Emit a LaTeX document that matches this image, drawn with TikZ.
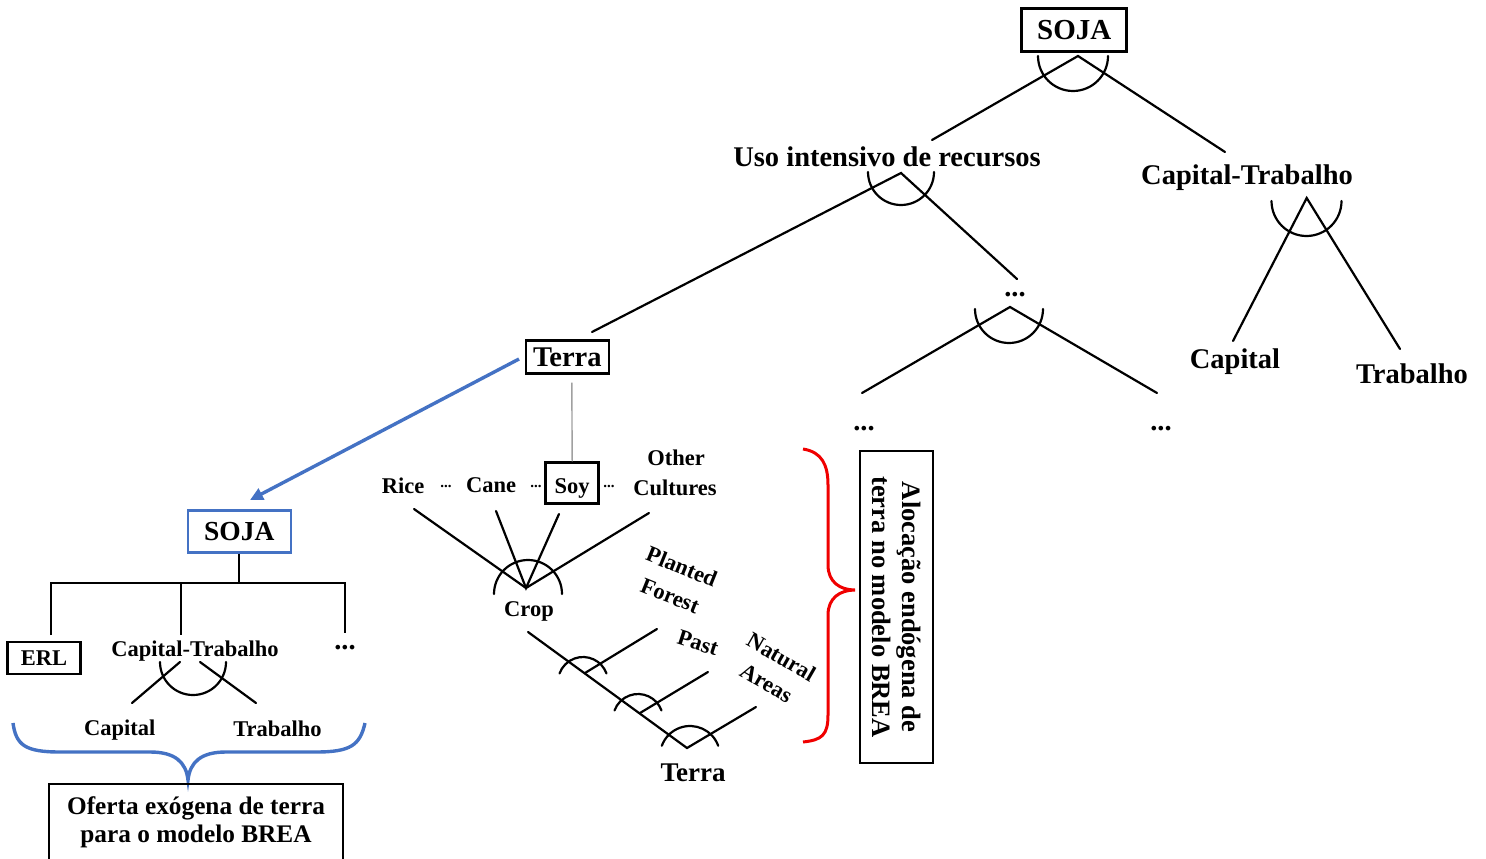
\documentclass[tikz,border=0pt]{standalone}
\usepackage{fontspec}
\setmainfont{Liberation Serif}
\usetikzlibrary{arrows.meta}
\definecolor{officeblue}{RGB}{68,114,196}
\definecolor{stemgray}{RGB}{160,160,160}
\definecolor{bracered}{RGB}{240,0,0}

\begin{document}
\begin{tikzpicture}[x=1pt,y=1pt,
  big/.style={font=\bfseries\fontsize{28.5}{32}\selectfont, inner sep=0pt},
  small/.style={font=\bfseries\fontsize{22.5}{27}\selectfont, inner sep=0pt, align=center},
  dots/.style={font=\bfseries\fontsize{28.5}{32}\selectfont, inner sep=0pt, anchor=base},
  tinydots/.style={font=\bfseries\fontsize{15}{18}\selectfont, inner sep=0pt, anchor=base},
  framed/.style={draw, line width=2.5pt, inner sep=0pt},
  link/.style={line width=2.2pt, line cap=round},
  bluelink/.style={draw=officeblue, line width=3.4pt},
]
\useasboundingbox (0,0) rectangle (1486,-859);
\clip (0,0) rectangle (1486,-859);
\fill[white] (0,0) rectangle (1486,-859);

% ---------- upper nest: SOJA production function ----------
\node[framed, big, font=\bfseries\fontsize{29}{32}\selectfont,
      minimum width=105pt, minimum height=43pt] (soja) at (1074.2,-30) {SOJA};
\coordinate (a1) at (1078,-56);
\coordinate (usoTop) at (932,-140);
\coordinate (ctTop) at (1225,-152);
\draw[link] (usoTop) -- (a1) -- (ctTop);
\draw[link] (1038,-56) arc[start angle=180,end angle=360,radius=35];

\node[big, anchor=base] (uso) at (887,-166) {Uso intensivo de recursos};
\node[big, anchor=base] (ct) at (1247,-184) {Capital-Trabalho};

% resource-intensive branch
\coordinate (a2) at (901,-173);
\coordinate (terraTop) at (592,-332);
\coordinate (midTop) at (1017,-279);
\draw[link] (terraTop) -- (a2) -- (midTop);
\draw[link] (868,-172) arc[start angle=180,end angle=360,radius=33];

% capital-labour branch
\coordinate (a3) at (1306.7,-198);
\coordinate (capTop) at (1233,-341);
\coordinate (trabTop) at (1400,-349);
\draw[link] (capTop) -- (a3) -- (trabTop);
\draw[link] (1271.5,-201) arc[start angle=180,end angle=360,radius=35];
\node[big, anchor=base] (cap) at (1235,-368) {Capital};
\node[big, anchor=base] (trab) at (1412,-383) {Trabalho};

% other resources
\node[dots] (mid) at (1015,-296) {...};
\coordinate (a4) at (1010,-307);
\coordinate (leftEnd) at (862,-393);
\coordinate (rightEnd) at (1157,-393);
\draw[link] (leftEnd) -- (a4) -- (rightEnd);
\draw[link] (975,-309) arc[start angle=180,end angle=360,radius=34];
\node[dots] (dotsL) at (864,-430) {...};
\node[dots] (dotsR) at (1161,-430) {...};

% ---------- land nest ----------
\node[framed, big, minimum width=83pt, minimum height=32.6pt] (terra) at (567.3,-357) {Terra};

\node[small, anchor=base] (rice) at (403,-493) {Rice};
\node[small, anchor=base] (cane) at (491,-492) {Cane};
\node[framed, small, minimum width=53pt, minimum height=41pt,
      text height=21pt, text depth=0pt] (soy) at (572.2,-483) {Soy};
\node[small, anchor=base] (other) at (676,-465) {Other};
\node[small, anchor=base] (cultures) at (675,-495.7) {Cultures};
\node[tinydots] (d1) at (446,-487) {...};
\node[tinydots] (d2) at (536,-487) {...};
\node[tinydots] (d3) at (609,-487) {...};
\draw[stemgray, line width=1.4pt] ([xshift=4.5pt,yshift=-8pt]terra.south) -- (soy.north);

% crop aggregate
\coordinate (cropApex) at (526,-588);
\coordinate (riceEnd) at (414,-509);
\coordinate (caneEnd) at (496,-511);
\coordinate (soyEnd) at (559,-514);
\coordinate (otherEnd) at (649,-513);
\draw[link] (riceEnd) -- (cropApex) -- (otherEnd);
\draw[link] (caneEnd) -- (cropApex) -- (soyEnd);
\draw[link] (562,-594) arc[start angle=0,end angle=180,radius=34];
\node[small, anchor=base] (crop) at (529,-616.7) {Crop};

% land-use chain
\coordinate (cropFoot) at (528,-632);
\coordinate (terraApex) at (687,-748);
\coordinate (naturalEnd) at (756,-707);
\coordinate (j1) at (585,-673);
\coordinate (forestEnd) at (657,-629);
\coordinate (j2) at (640,-713);
\coordinate (pastEnd) at (708,-672);
\draw[link] (cropFoot) -- (terraApex) -- (naturalEnd);
\draw[link] (j1) -- (forestEnd);
\draw[link] (j2) -- (pastEnd);
\draw[link] (606.5,-673.45) arc[start angle=20,end angle=160,radius=25];
\draw[link] (661.5,-710.45) arc[start angle=20,end angle=160,radius=25];
\draw[link] (718.2,-745.74) arc[start angle=20,end angle=160,radius=30];

\node[small, rotate=-22, font=\bfseries\fontsize{22.5}{31}\selectfont] (forest) at (676,-581) {Planted\\Forest};
\node[small, rotate=-18] (past) at (698,-643) {Past};
\node[small, rotate=-30, font=\bfseries\fontsize{22.5}{30}\selectfont] (natural) at (774,-670) {Natural\\Areas};
\node[big, font=\bfseries\fontsize{27}{30}\selectfont, anchor=base] (terraBottom) at (693,-781.7) {Terra};

% endogenous allocation
\draw[bracered, line width=3pt]
  (803,-449) .. controls (822,-452) and (828,-465) .. (828,-485) -- (828,-565)
  .. controls (828,-582) and (840,-590) .. (855,-590)
  .. controls (840,-590) and (828,-598) .. (828,-615) -- (828,-715)
  .. controls (828,-735) and (822,-740) .. (803,-742);
\node[draw, line width=2pt, rotate=-90, minimum width=312pt, minimum height=73pt,
      inner sep=0pt, align=center, font=\bfseries\fontsize{26.5}{30}\selectfont]
  (alloc) at (896.5,-607) {Alocação endógena de\\terra no modelo BREA};

% ---------- exogenous land supply ----------
\node[framed, draw=officeblue, font=\bfseries\fontsize{27.5}{30}\selectfont,
      minimum width=103pt, minimum height=41.6pt] (sojaL) at (239.3,-531.5) {SOJA};
\coordinate (arrowStart) at (519,-359);
\coordinate (arrowTip) at (250,-500);
\draw[bluelink, -{Triangle[length=13pt,width=12pt]}] (arrowStart) -- (arrowTip);

\coordinate (hub) at (239.3,-583);
\coordinate (hL) at (51,-583);
\coordinate (hM) at (181,-583);
\coordinate (hR) at (345,-583);
\coordinate (vL) at (51,-635);
\coordinate (vM) at (181,-635);
\coordinate (vR) at (345,-633);
\draw[link, line cap=butt] (sojaL.south) -- (hub);
\draw[link, line cap=butt] (vL) -- (hL) -- (hR) -- (vR);
\draw[link, line cap=butt] (hM) -- (vM);

\node[framed, small, minimum width=73pt, minimum height=32pt] (erl) at (44,-657.8) {ERL};
\node[small, anchor=base] (ctL) at (195,-656) {Capital-Trabalho};
\node[dots] (dotsLeft) at (345,-649) {...};

\coordinate (ctLa) at (180,-662);
\coordinate (ctLb) at (200,-662);
\coordinate (capLEnd) at (132,-703);
\coordinate (trabLEnd) at (256,-703);
\draw[link] (ctLa) -- (capLEnd);
\draw[link] (ctLb) -- (trabLEnd);
\draw[link] (160,-662) arc[start angle=180,end angle=360,radius=33];
\node[small, anchor=base] (capL) at (119.7,-735) {Capital};
\node[small, anchor=base] (trabL) at (277.5,-736.7) {Trabalho};

\draw[bluelink]
  (13,-723) .. controls (16,-745) and (25,-752) .. (60,-752) -- (150,-752)
  .. controls (175,-752) and (186,-762) .. (188,-780)
  .. controls (190,-762) and (201,-752) .. (226,-752) -- (316,-752)
  .. controls (351,-752) and (360,-745) .. (365,-723);

\node[draw, line width=2pt, minimum width=294pt, minimum height=92pt, anchor=north,
      inner sep=0pt] (ofbox) at (196,-783) {};
\node[align=center, inner sep=0pt, font=\bfseries\fontsize{25.3}{28.3}\selectfont]
  (oftext) at (196,-822) {Oferta exógena de terra\\para o modelo BREA};
\end{tikzpicture}
\end{document}
